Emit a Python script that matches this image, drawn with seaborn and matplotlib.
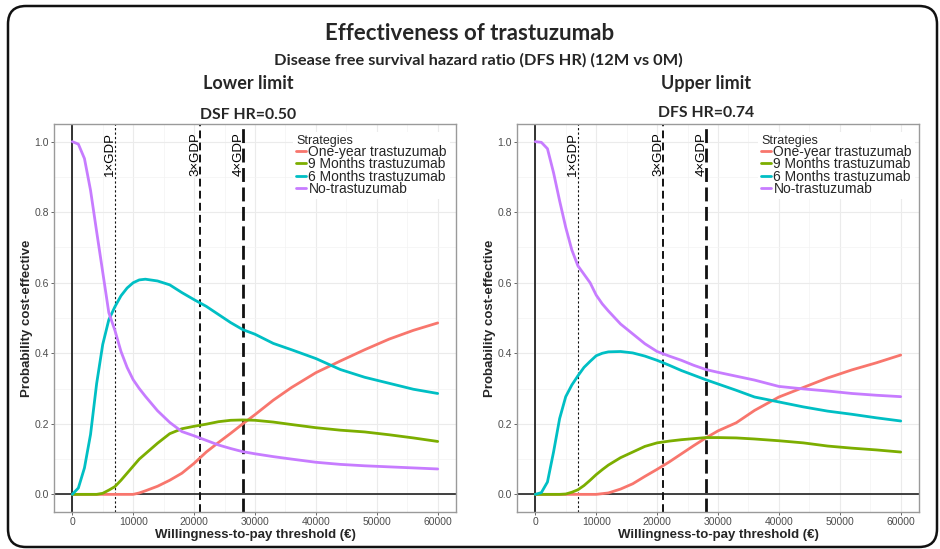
import matplotlib
matplotlib.use("Agg")
import numpy as np
import pandas as pd
import seaborn as sns
import matplotlib.pyplot as plt
from matplotlib.patches import FancyBboxPatch
from matplotlib.transforms import IdentityTransform
from matplotlib.ticker import MultipleLocator
from matplotlib.lines import Line2D

# ---------------- data ----------------
strategies = ["One-year trastuzumab", "9 Months trastuzumab", "6 Months trastuzumab", "No-trastuzumab"]
colors = ["#F8766D", "#7CAE00", "#00BFC4", "#C77CFF"]

wtp = [0, 1000, 2000, 3000, 4000, 5000, 6000, 7000, 8000, 9000, 10000, 11000, 12000,
       14000, 16000, 18000, 20000, 22000, 24000, 26000, 28000, 30000, 33000, 36000,
       40000, 44000, 48000, 52000, 56000, 60000]

# Lower limit (DSF HR = 0.50)
low_one_year = [0, 0, 0, 0, 0, 0, 0, 0, 0, 0, 0, 0.004, 0.010,
                0.023, 0.040, 0.060, 0.088, 0.120, 0.147, 0.173, 0.200, 0.226, 0.267, 0.303,
                0.345, 0.378, 0.410, 0.440, 0.465, 0.486]
low_9m = [0, 0, 0, 0, 0, 0.003, 0.012, 0.022, 0.040, 0.060, 0.080, 0.100, 0.115,
          0.145, 0.172, 0.186, 0.193, 0.199, 0.206, 0.210, 0.211, 0.210, 0.205, 0.198,
          0.189, 0.182, 0.177, 0.169, 0.160, 0.150]
low_6m = [0, 0.018, 0.075, 0.170, 0.314, 0.425, 0.495, 0.532, 0.563, 0.585, 0.600, 0.608, 0.610,
          0.605, 0.594, 0.572, 0.552, 0.533, 0.510, 0.487, 0.467, 0.454, 0.428, 0.410,
          0.385, 0.354, 0.332, 0.315, 0.298, 0.286]
low_none = [1.0, 0.993, 0.952, 0.862, 0.745, 0.630, 0.515, 0.465, 0.405, 0.360, 0.325, 0.300, 0.278,
            0.237, 0.204, 0.178, 0.166, 0.153, 0.140, 0.130, 0.121, 0.115, 0.107, 0.100,
            0.091, 0.085, 0.081, 0.078, 0.075, 0.072]

# Upper limit (DFS HR = 0.74)
up_one_year = [0, 0, 0, 0, 0, 0, 0, 0, 0, 0, 0, 0.002, 0.004,
               0.015, 0.030, 0.051, 0.071, 0.092, 0.115, 0.138, 0.160, 0.180, 0.203, 0.238,
               0.276, 0.303, 0.330, 0.353, 0.373, 0.395]
up_9m = [0, 0, 0, 0, 0, 0.001, 0.006, 0.013, 0.025, 0.040, 0.056, 0.070, 0.083,
         0.104, 0.120, 0.136, 0.146, 0.151, 0.155, 0.158, 0.161, 0.161, 0.160, 0.157,
         0.152, 0.146, 0.137, 0.131, 0.126, 0.120]
up_6m = [0, 0.005, 0.035, 0.120, 0.215, 0.277, 0.310, 0.336, 0.360, 0.377, 0.393, 0.400, 0.404,
         0.405, 0.401, 0.392, 0.380, 0.366, 0.351, 0.338, 0.325, 0.313, 0.295, 0.276,
         0.262, 0.248, 0.236, 0.227, 0.217, 0.208]
up_none = [1.0, 0.998, 0.980, 0.912, 0.832, 0.757, 0.693, 0.648, 0.624, 0.600, 0.565, 0.540, 0.520,
           0.483, 0.455, 0.427, 0.405, 0.392, 0.380, 0.366, 0.354, 0.346, 0.335, 0.324,
           0.306, 0.299, 0.293, 0.286, 0.281, 0.277]

gdp_x = [7000, 21000, 28000]
gdp_labels = ["1\u00d7GDP", "3\u00d7GDP", "4\u00d7GDP"]

xticks = [0, 10000, 20000, 30000, 40000, 50000, 60000]
yticks = [0.0, 0.2, 0.4, 0.6, 0.8, 1.0]


def make_df(series):
    frames = []
    for name, vals in zip(strategies, series):
        frames.append(pd.DataFrame({"wtp": wtp, "prob": vals, "Strategies": name}))
    return pd.concat(frames, ignore_index=True)


df_low = make_df([low_one_year, low_9m, low_6m, low_none])
df_up = make_df([up_one_year, up_9m, up_6m, up_none])

# ---------------- figure ----------------
sns.set_theme(style="white")
plt.rcParams["font.family"] = ["Liberation Sans", "DejaVu Sans"]

W, H = 940, 549
fig = plt.figure(figsize=(W / 100, H / 100), dpi=100)

# rounded frame
frame = FancyBboxPatch((8, 2), 929, 541, boxstyle="round,pad=0,rounding_size=18",
                       transform=IdentityTransform(), fill=False, edgecolor="#111111",
                       linewidth=1.8, zorder=0)
fig.add_artist(frame)

head_font = ["Lato", "DejaVu Sans"]
fig.text(470 / W, 1 - 34 / H, "Effectiveness of trastuzumab", ha="center", va="center",
         fontsize=16, fontweight="bold", family=head_font)
fig.text(478 / W, 1 - 60 / H, "Disease free survival hazard ratio (DFS HR) (12M vs 0M)",
         ha="center", va="center", fontsize=11.8, fontweight="bold", family=head_font)
fig.text(248 / W, 1 - 84 / H, "Lower limit", ha="center", va="center",
         fontsize=13, fontweight="bold", family=head_font)
fig.text(706 / W, 1 - 84 / H, "Upper limit", ha="center", va="center",
         fontsize=13, fontweight="bold", family=head_font)
fig.text(248 / W, 1 - 115 / H, "DSF HR=0.50", ha="center", va="center",
         fontsize=11.3, fontweight="bold", family=head_font)
fig.text(706 / W, 1 - 113 / H, "DFS HR=0.74", ha="center", va="center",
         fontsize=11.3, fontweight="bold", family=head_font)


def panel(left_px, df, leg_x):
    ax = fig.add_axes([left_px / W, (H - 512) / H, 402 / W, 388 / H])
    ax.set_xlim(-3000, 63000)
    ax.set_ylim(-0.05, 1.05)
    ax.xaxis.set_major_locator(MultipleLocator(10000))
    ax.xaxis.set_minor_locator(MultipleLocator(5000))
    ax.yaxis.set_major_locator(MultipleLocator(0.2))
    ax.yaxis.set_minor_locator(MultipleLocator(0.1))
    ax.grid(which="major", color="#EBEBEB", linewidth=0.8, zorder=0)
    ax.grid(which="minor", color="#F3F3F3", linewidth=0.5, zorder=0)
    ax.set_axisbelow(True)
    for s in ax.spines.values():
        s.set_color("#9A9A9A")
        s.set_linewidth(1.0)

    ax.axhline(0, color="#222222", linewidth=1.2, zorder=1)
    ax.axvline(0, color="#111111", linewidth=1.2, zorder=1)

    sns.lineplot(data=df, x="wtp", y="prob", hue="Strategies", hue_order=strategies,
                 palette=colors, linewidth=2.0, ax=ax, sort=False, legend=False, zorder=3)

    styles = [dict(linestyle=(0, (2, 2)), linewidth=0.8),
              dict(linestyle=(0, (4, 2.2)), linewidth=1.4),
              dict(linestyle=(0, (5, 2)), linewidth=2.0)]
    for gx, lab, st in zip(gdp_x, gdp_labels, styles):
        ax.axvline(gx, color="#111111", zorder=2, **st)
        ax.text(gx - 750, 1.027, lab, rotation=90, ha="center", va="top",
                fontsize=9.5, color="black", zorder=4)

    ax.set_xticks(xticks)
    ax.set_xticklabels([str(v) for v in xticks])
    ax.set_yticks(yticks)
    ax.set_yticklabels([f"{v:.1f}" for v in yticks])
    ax.tick_params(axis="both", which="major", labelsize=7.5, labelcolor="#4D4D4D",
                   length=2.5, width=0.6, color="#4D4D4D", pad=1.2, bottom=True, left=True)
    ax.tick_params(which="minor", length=0)
    ax.set_xlabel("Willingness-to-pay threshold (\u20ac)", fontsize=9.5, fontweight="bold",
                  labelpad=1)
    ax.set_ylabel("Probability cost-effective", fontsize=9.5, fontweight="bold", labelpad=1)

    handles = [Line2D([], [], color=c, linewidth=2.0) for c in colors]
    leg = ax.legend(handles, strategies, title="Strategies", loc="upper left",
                    bbox_to_anchor=(leg_x, 0.98), frameon=True, fontsize=10,
                    title_fontsize=9, handlelength=0.7, handletextpad=0.2,
                    labelspacing=-0.12, borderpad=0.2, borderaxespad=0)
    leg.get_frame().set_edgecolor("none")
    leg.get_frame().set_facecolor("white")
    leg.get_frame().set_alpha(1)
    leg._legend_box.align = "left"
    leg.set_zorder(5)
    return ax


panel(54, df_low, 0.595)
panel(517, df_up, 0.60)

fig.savefig("out.png", dpi=100)
